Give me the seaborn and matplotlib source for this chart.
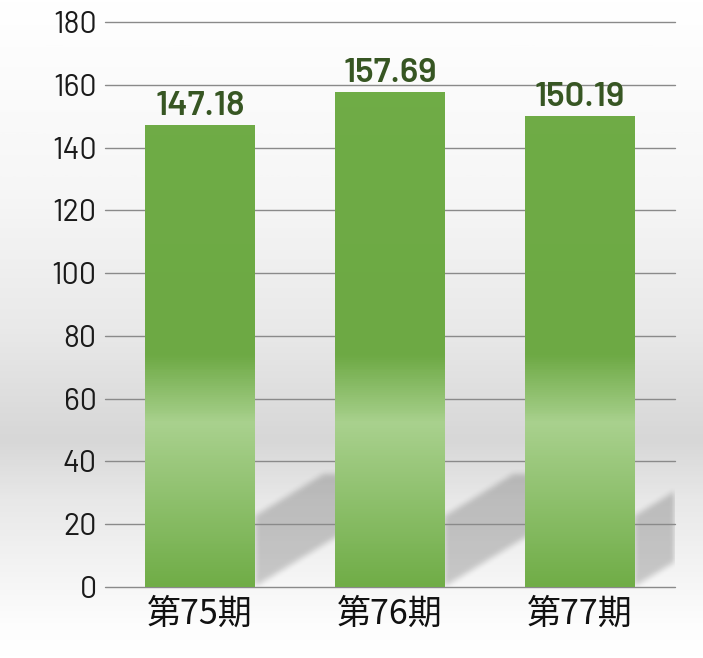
import numpy as np
import matplotlib
matplotlib.use("Agg")
import matplotlib.pyplot as plt
from matplotlib.colors import LinearSegmentedColormap
import seaborn as sns

# data
periods = ["第75期", "第76期", "第77期"]
values = [147.18, 157.69, 150.19]
y_ticks = [0, 20, 40, 60, 80, 100, 120, 140, 160, 180]

sns.set_theme(style="white")
plt.rcParams["font.family"] = ["Barlow", "DejaVu Sans"]

fig = plt.figure(figsize=(7.03, 6.58), dpi=100)

# figure background: soft grey band behind the lower half
bg = fig.add_axes([0, 0, 1, 1], zorder=-10)
bg_cmap = LinearSegmentedColormap.from_list("bg", [
    (0.00, "#ffffff"), (0.30, "#f6f6f6"), (0.50, "#e9e9e9"),
    (0.62, "#dcdcdc"), (0.67, "#d7d7d7"), (0.76, "#e8e8e8"),
    (0.89, "#f6f6f6"), (0.95, "#fdfdfd"), (1.00, "#ffffff")])
bg.imshow(np.linspace(0, 1, 400)[:, None], aspect="auto", cmap=bg_cmap,
          extent=[0, 1, 1, 0])
bg.set_axis_off()

ax = fig.add_axes([105 / 703, 1 - 587 / 658, 570 / 703, 565 / 658])
ax.set_facecolor("none")

sns.barplot(x=periods, y=values, width=0.574, color="#70ad47", ax=ax,
            zorder=3, saturation=1)

ax.set_ylim(0, 180)
ax.set_xlim(-0.5, 2.5)
ax.set_yticks(y_ticks)
ax.set_axisbelow(True)
ax.yaxis.grid(True, color="#8a8a8a", linewidth=1.0)
ax.xaxis.grid(False)
for gl in ax.get_ygridlines():
    gl.set_clip_on(False)
for s in ax.spines.values():
    s.set_visible(False)
ax.tick_params(axis="y", length=0, pad=6, labelsize=22, labelcolor="#1a1a1a")
ax.tick_params(axis="x", length=0, pad=7)
for lab in ax.get_xticklabels():
    lab.set_family(["Noto Sans CJK JP", "DejaVu Sans"])
    lab.set_fontsize(24.5)
    lab.set_color("#111111")
ax.set_xlabel("")
ax.set_ylabel("")

# cast shadows to the right of each bar
nx, ny = 600, 600
gx = np.linspace(-0.5, 2.5, nx)
gy = np.linspace(0, 180, ny)
XX, YY = np.meshgrid(gx, gy)
mask = np.zeros_like(XX)
slope = 36.9
for p in ax.patches:
    xr = p.get_x() + p.get_width()
    d = XX - xr
    inside = (d >= 0) & (d <= 0.6)
    bottom = slope * d
    top = np.minimum(22.5 + slope * d, 36.0)
    mask[inside & (YY >= bottom) & (YY <= top)] = 1.0
k = np.ones(7) / 7
for _ in range(2):
    mask = np.apply_along_axis(lambda r: np.convolve(r, k, mode="same"), 1, mask)
    mask = np.apply_along_axis(lambda c: np.convolve(c, k, mode="same"), 0, mask)
shadow = np.zeros((ny, nx, 4))
shadow[..., 3] = mask * 0.19
ax.imshow(shadow, origin="lower", extent=[-0.5, 2.5, 0, 180], aspect="auto",
          zorder=0.2, interpolation="bilinear")

# vertical gradient fill for bars
bar_cmap = LinearSegmentedColormap.from_list("bar", [
    (0.0, "#70ad47"), (52 / 180, "#a9d18e"), (74 / 180, "#6da944"),
    (1.0, "#70ad47")])
grad = np.linspace(0, 1, 500)[:, None]
for p in ax.patches:
    im = ax.imshow(grad, origin="lower", aspect="auto", cmap=bar_cmap,
                   extent=[-0.5, 2.5, 0, 180], zorder=3.5)
    im.set_clip_path(p)
    p.set_facecolor("none")
    p.set_edgecolor("none")

ax.set_xlim(-0.5, 2.5)
ax.set_ylim(0, 180)

ax.bar_label(ax.containers[0], labels=[f"{v:.2f}" for v in values],
             padding=2, fontsize=25, fontweight="semibold", color="#375623",
             zorder=5)

fig.savefig("out.png", dpi=100)
